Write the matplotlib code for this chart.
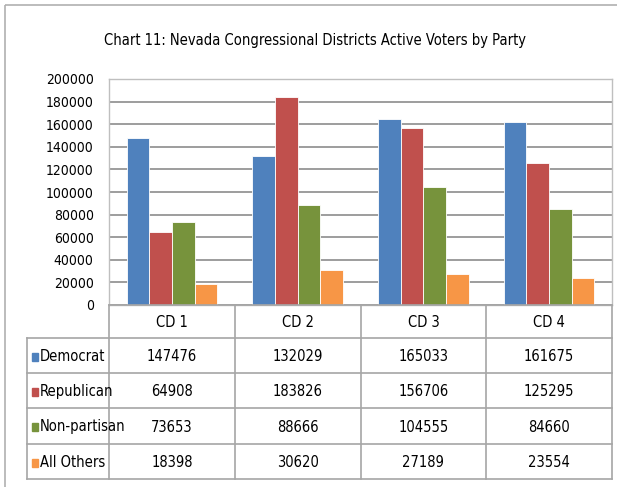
import matplotlib.pyplot as plt
import numpy as np
from matplotlib.patches import Rectangle

# узкий шрифт, ближе к Calibri в оригинале
plt.rcParams['font.family'] = ['DejaVu Sans']
plt.rcParams['font.stretch'] = 'condensed'

districts = ['CD 1', 'CD 2', 'CD 3', 'CD 4']
parties = ['Democrat', 'Republican', 'Non-partisan', 'All Others']
democrat = [147476, 132029, 165033, 161675]
republican = [64908, 183826, 156706, 125295]
nonpartisan = [73653, 88666, 104555, 84660]
others = [18398, 30620, 27189, 23554]
colors = ['#4F81BD', '#C0504D', '#77933C', '#F79646']

series = [democrat, republican, nonpartisan, others]

W, H = 617, 487
fig = plt.figure(figsize=(W / 100, H / 100), dpi=100)

# область графика (в пикселях)
left, right, top, bottom = 109, 612, 79, 305
ax = fig.add_axes([left / W, 1 - bottom / H, (right - left) / W, (bottom - top) / H])

x = np.arange(len(districts))
bw = 0.18
for i, (vals, c) in enumerate(zip(series, colors)):
    ax.bar(x + (i - 1.5) * bw, vals, bw, color=c, edgecolor='white', linewidth=0.6, zorder=3)

ax.set_xlim(-0.5, len(districts) - 0.5)
ax.set_ylim(0, 200000)
ax.set_yticks(range(0, 200001, 20000))
ax.set_yticklabels([str(v) for v in range(0, 200001, 20000)], fontsize=10)
ax.set_xticks([])
ax.yaxis.grid(True, color='#8c8c8c', linewidth=1.2, zorder=0)
ax.tick_params(axis='y', length=0, pad=11)
for s in ax.spines.values():
    s.set_color('#bfbfbf')
    s.set_linewidth(1)

# слой для таблицы и рамки (пиксельные координаты)
ov = fig.add_axes([0, 0, 1, 1], zorder=5)
ov.set_xlim(0, W)
ov.set_ylim(H, 0)
ov.axis('off')
ov.patch.set_alpha(0)

# рамка рисунка
ov.add_patch(Rectangle((5, 5), W + 10, H + 10, fill=False, edgecolor='#b0b0b0', linewidth=1.2))

fig.text(0.51, 1 - 40 / H, 'Chart 11: Nevada Congressional Districts Active Voters by Party',
         ha='center', va='center', fontsize=10.5)

# таблица данных
tl = 27
col_w = (right - left) / len(districts)
rows_y = [305, 338, 373, 408, 444, 479]
lc = '#a6a6a6'
ov.plot([left, right], [rows_y[0], rows_y[0]], color=lc, lw=1.2)
for yy in rows_y[1:]:
    ov.plot([tl, right], [yy, yy], color=lc, lw=1.2)
ov.plot([tl, tl], [rows_y[1], rows_y[-1]], color=lc, lw=1.2)
for j in range(len(districts) + 1):
    xx = left + j * col_w
    ov.plot([xx, xx], [rows_y[0], rows_y[-1]], color=lc, lw=1.2)

for j, d in enumerate(districts):
    cx = left + (j + 0.5) * col_w
    ov.text(cx, (rows_y[0] + rows_y[1]) / 2 + 1, d, ha='center', va='center', fontsize=10.5)

for i, (name, vals, c) in enumerate(zip(parties, series, colors)):
    cy = (rows_y[i + 1] + rows_y[i + 2]) / 2 + 1
    ov.add_patch(Rectangle((32, cy - 4), 6, 8, color=c))
    ov.text(40, cy, name, ha='left', va='center', fontsize=10.5)
    for j, v in enumerate(vals):
        cx = left + (j + 0.5) * col_w
        ov.text(cx, cy, str(v), ha='center', va='center', fontsize=10.5)

plt.savefig('out.png', dpi=100)
